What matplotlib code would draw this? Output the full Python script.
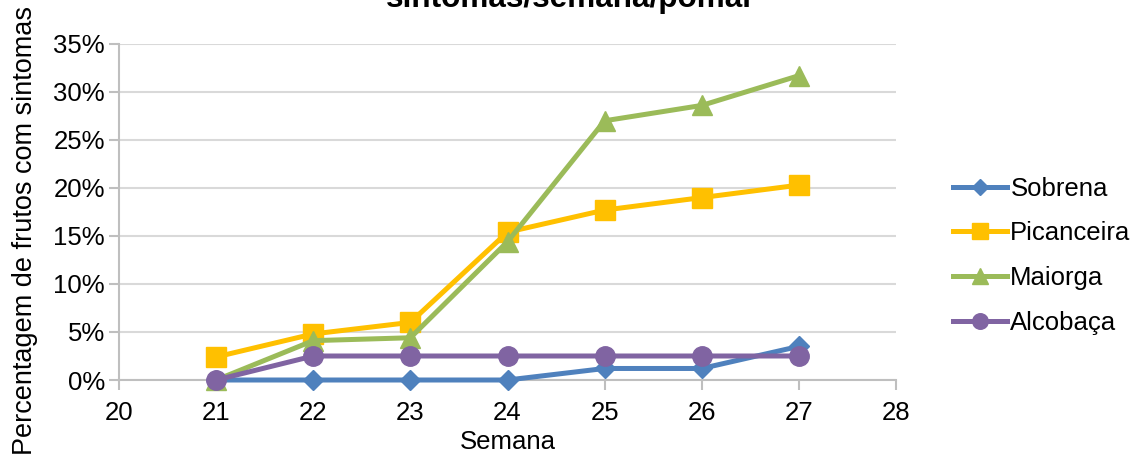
import matplotlib.pyplot as plt
from matplotlib.ticker import FuncFormatter

plt.rcParams['font.family'] = ['Liberation Sans', 'DejaVu Sans']

# semanas e percentagem de frutos com sintomas (%)
semanas = [21, 22, 23, 24, 25, 26, 27]
sobrena = [0, 0, 0, 0, 1.2, 1.2, 3.5]
picanceira = [2.4, 4.8, 6.0, 15.4, 17.7, 19.0, 20.3]
maiorga = [0, 4.1, 4.4, 14.4, 27.0, 28.6, 31.7]
alcobaca = [0, 2.5, 2.5, 2.5, 2.5, 2.5, 2.5]

series = [
    ('Sobrena', sobrena, '#4F81BD', 'D', 10),
    ('Picanceira', picanceira, '#FFC000', 's', 14),
    ('Maiorga', maiorga, '#9BBB59', '^', 14),
    ('Alcobaça', alcobaca, '#8064A2', 'o', 14),
]

fig = plt.figure(figsize=(11.42, 4.61), dpi=100)
ax = fig.add_axes([0.1042, 0.1757, 0.6804, 0.7289])

for nome, vals, cor, mk, ms in series:
    ax.plot(semanas, vals, color=cor, lw=3.6, marker=mk, markersize=ms,
            label=nome, clip_on=False, zorder=3)

ax.set_xlim(20, 28)
ax.set_ylim(0, 35)
ax.set_xticks(range(20, 29))
ax.set_yticks(range(0, 36, 5))
ax.yaxis.set_major_formatter(FuncFormatter(lambda v, p: f'{v:.0f}%'))
ax.grid(axis='y', color='#D9D9D9', lw=1.5)
ax.set_axisbelow(True)

for s in ['top', 'right']:
    ax.spines[s].set_visible(False)
for s in ['left', 'bottom']:
    ax.spines[s].set_color('#BFBFBF')
    ax.spines[s].set_linewidth(1.5)
ax.tick_params(axis='both', colors='#BFBFBF', width=1.5, length=7,
               labelcolor='black', labelsize=18.5)
ax.tick_params(axis='x', pad=8)
ax.tick_params(axis='y', pad=3)

ax.set_xlabel('Semana', fontsize=18.5, labelpad=4)
fig.text(0.022, 0.5, 'Percentagem de frutos com sintomas', rotation=90,
         ha='center', va='center', fontsize=19.5)

fig.text(0.5, 0.985, 'sintomas/semana/pomar', ha='center', va='baseline',
         fontsize=22.7, fontweight='bold')

leg = ax.legend(loc='center left', bbox_to_anchor=(1.043, 0.37), frameon=False,
                fontsize=18.5, handlelength=2.1, labelspacing=0.8,
                handletextpad=0.15, markerscale=0.8)

fig.savefig('out.png', dpi=100)
